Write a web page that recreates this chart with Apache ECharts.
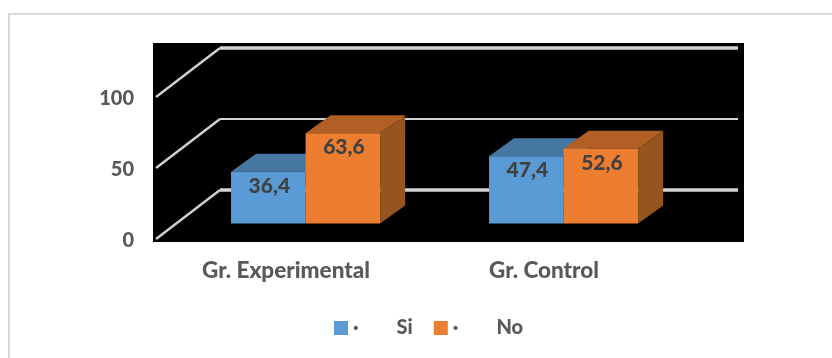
<!DOCTYPE html>
<html>
<head>
<meta charset="utf-8">
<style>
html, body { margin: 0; padding: 0; background: #fff; }
#main { width: 832px; height: 358px; }
</style>
<script src="https://cdn.jsdelivr.net/npm/echarts@6/dist/echarts.min.js"></script>
</head>
<body>
<div id="main"></div>
<script>
var categories = ['Gr. Experimental', 'Gr. Control'];
var siValues = [36.4, 47.4];
var noValues = [63.6, 52.6];
var yTicks = [0, 50, 100];
var siName = '·        Si';
var noName = '·        No';

var textColor = '#595959';
var fontName = 'Lato';

// depth of the fake 3d box, in pixels
var wallDx = 63, wallDy = -48;
var floorDx = 19.6, floorDy = -14.5;
var boxDx = 25, boxDy = -18;
var barWidthRatio = 0.289;

function barItem(color, topColor, sideColor, side) {
	return function (params, api) {
		var i = api.value(0), val = api.value(1);
		var base = api.coord([i, 0]);
		var top = api.coord([i, val]);
		var w = api.size([1, 0])[0] * barWidthRatio;
		var x0 = base[0] + floorDx + (side < 0 ? -w : 0);
		var x1 = x0 + w;
		var y0 = base[1] + floorDy;
		var y1 = top[1] + floorDy;
		return {
			type : 'group',
			children : [ {
				type : 'polygon',
				shape : { points : [ [x1, y0], [x1 + boxDx, y0 + boxDy], [x1 + boxDx, y1 + boxDy], [x1, y1] ] },
				style : { fill : sideColor }
			}, {
				type : 'polygon',
				shape : { points : [ [x0, y1], [x1, y1], [x1 + boxDx, y1 + boxDy], [x0 + boxDx, y1 + boxDy] ] },
				style : { fill : topColor }
			}, {
				type : 'rect',
				shape : { x : x0, y : y1, width : w, height : y0 - y1 },
				style : { fill : color }
			}, {
				type : 'text',
				z2 : 10,
				style : {
					text : String(val).replace('.', ','),
					x : (x0 + x1) / 2 + 1,
					y : y1 + 14,
					align : 'center',
					verticalAlign : 'middle',
					fill : '#404040',
					font : '900 21px ' + fontName
				}
			} ]
		};
	};
}

function gridItem(params, api) {
	var y = api.coord([0, api.value(0)])[1];
	var left = params.coordSys.x;
	var right = left + params.coordSys.width + wallDx + 2;
	var widths = [3.5, 2, 3.5];
	return {
		type : 'group',
		children : [ {
			type : 'line',
			shape : { x1 : left - 1, y1 : y + 1, x2 : left + wallDx, y2 : y + wallDy },
			style : { stroke : '#cfcfcf', lineWidth : 2.5 }
		}, {
			type : 'line',
			shape : { x1 : left + wallDx, y1 : y + wallDy, x2 : right, y2 : y + wallDy },
			style : { stroke : '#d4d4d4', lineWidth : widths[params.dataIndex] }
		} ]
	};
}

function rows(values) {
	return values.map(function (v, i) { return [i, v]; });
}

var chart = echarts.init(document.getElementById('main'), null, { renderer : 'canvas' });

chart.setOption({
	animation : false,
	backgroundColor : '#ffffff',
	graphic : [
		{ type : 'rect', z : -1, shape : { x : 153, y : 43, width : 591, height : 199 }, style : { fill : '#000' } },
		{ type : 'rect', z : -1, shape : { x : 8, y : 13, width : 824, height : 2 }, style : { fill : '#d9d9d9' } },
		{ type : 'rect', z : -1, shape : { x : 8, y : 13, width : 2, height : 345 }, style : { fill : '#d9d9d9' } }
	],
	grid : { left : 157, top : 96, width : 516, height : 142 },
	legend : {
		left : 334,
		top : 318,
		padding : 0,
		itemWidth : 14,
		itemHeight : 14,
		itemGap : 21,
		icon : 'rect',
		textStyle : { color : textColor, fontFamily : fontName, fontWeight : 900, fontSize : 20 },
		data : [siName, noName]
	},
	xAxis : {
		type : 'category',
		data : categories,
		axisLine : { show : false },
		axisTick : { show : false },
		axisLabel : { color : textColor, fontFamily : fontName, fontWeight : 900, fontSize : 22.5, margin : 21 }
	},
	yAxis : {
		type : 'value',
		min : 0,
		max : 100,
		interval : 50,
		splitLine : { show : false },
		axisLine : { show : false },
		axisTick : { show : false },
		axisLabel : { color : textColor, fontFamily : fontName, fontWeight : 900, fontSize : 20, margin : 23, verticalAlign : 'top', lineHeight : 6 }
	},
	series : [ {
		type : 'custom',
		silent : true,
		renderItem : gridItem,
		encode : { y : 0 },
		data : yTicks.map(function (v) { return [v]; })
	}, {
		name : siName,
		type : 'custom',
		itemStyle : { color : '#5b9bd5' },
		renderItem : barItem('#5b9bd5', '#4677a3', '#3f6c96', -1),
		encode : { x : 0, y : 1 },
		data : rows(siValues)
	}, {
		name : noName,
		type : 'custom',
		itemStyle : { color : '#ed7d31' },
		renderItem : barItem('#ed7d31', '#b15f24', '#96551f', 1),
		encode : { x : 0, y : 1 },
		data : rows(noValues)
	} ]
});
</script>
</body>
</html>
